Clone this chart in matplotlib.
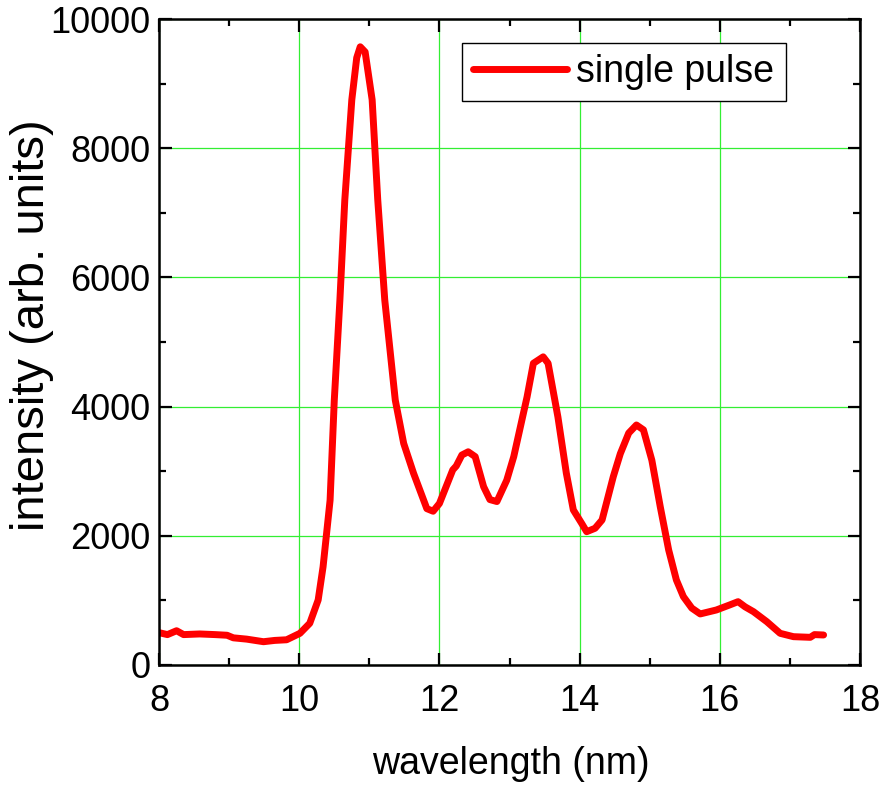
import matplotlib
matplotlib.use("Agg")
import matplotlib.pyplot as plt
from matplotlib.ticker import MultipleLocator

# values
wavelength = [8.0, 8.12, 8.25, 8.35, 8.58, 8.8, 8.97, 9.06, 9.25, 9.49, 9.65, 9.82,
              10.01, 10.15, 10.27, 10.34, 10.44, 10.5, 10.58, 10.65, 10.75, 10.82,
              10.87, 10.94, 11.04, 11.12, 11.22, 11.37, 11.49, 11.63, 11.82, 11.91,
              12.0, 12.19, 12.24, 12.32, 12.41, 12.51, 12.63, 12.72, 12.82, 12.96,
              13.06, 13.25, 13.34, 13.48, 13.55, 13.69, 13.81, 13.91, 14.03, 14.1,
              14.22, 14.32, 14.48, 14.58, 14.7, 14.81, 14.91, 15.03, 15.15, 15.27,
              15.38, 15.48, 15.6, 15.72, 15.95, 16.14, 16.26, 16.36, 16.48, 16.67,
              16.86, 17.05, 17.29, 17.35, 17.48]
intensity = [500, 470, 530, 470, 480, 470, 460, 420, 400, 360, 380, 390,
             490, 645, 1006, 1520, 2550, 4100, 5650, 7200, 8750, 9400,
             9570, 9490, 8750, 7200, 5650, 4100, 3430, 2970, 2420, 2380,
             2500, 3020, 3080, 3250, 3300, 3225, 2760, 2560, 2530, 2860,
             3225, 4150, 4670, 4770, 4670, 3840, 2970, 2400, 2190, 2063,
             2116, 2245, 2915, 3270, 3590, 3715, 3640, 3170, 2450, 1780,
             1316, 1058, 880, 790, 851, 929, 980, 900, 825, 670,
             490, 438, 428, 470, 464]
xticks = [8, 10, 12, 14, 16, 18]
yticks = [0, 2000, 4000, 6000, 8000, 10000]

plt.rcParams['font.family'] = ['Liberation Sans', 'DejaVu Sans']

fig = plt.figure(figsize=(8.86, 7.92), dpi=100)
ax = fig.add_subplot(111)
fig.subplots_adjust(left=0.1795, right=0.9707, top=0.976, bottom=0.1604)

ax.plot(wavelength, intensity, color='red', lw=5, label='single pulse',
        solid_joinstyle='round', solid_capstyle='round')

ax.set_xlim(8, 18)
ax.set_ylim(0, 10000)
ax.set_xticks(xticks)
ax.set_yticks(yticks)
ax.xaxis.set_minor_locator(MultipleLocator(1))
ax.yaxis.set_minor_locator(MultipleLocator(1000))
ax.grid(True, which='major', color='#33ee33', lw=0.9)
ax.set_axisbelow(True)

ax.tick_params(which='both', direction='in', top=True, right=True, width=1.6,
               labelsize=26)
ax.tick_params(which='major', length=9)
ax.tick_params(which='minor', length=5)
ax.tick_params(axis='x', pad=14)
ax.tick_params(axis='y', pad=6)
for s in ax.spines.values():
    s.set_linewidth(1.8)

ax.set_xlabel('wavelength (nm)', fontsize=27)
ax.xaxis.set_label_coords(0.502, -0.125)
ax.set_ylabel('intensity (arb. units)', fontsize=34)
ax.yaxis.set_label_coords(-0.15, 0.526)

leg = ax.legend(loc='upper right', bbox_to_anchor=(0.894, 0.963),
                prop={'size': 27}, fancybox=False, framealpha=1,
                edgecolor='black', handlelength=2.5, handletextpad=0.25,
                borderpad=0.3, borderaxespad=0)
leg.get_frame().set_linewidth(1.0)

fig.savefig('out.png', dpi=100)
